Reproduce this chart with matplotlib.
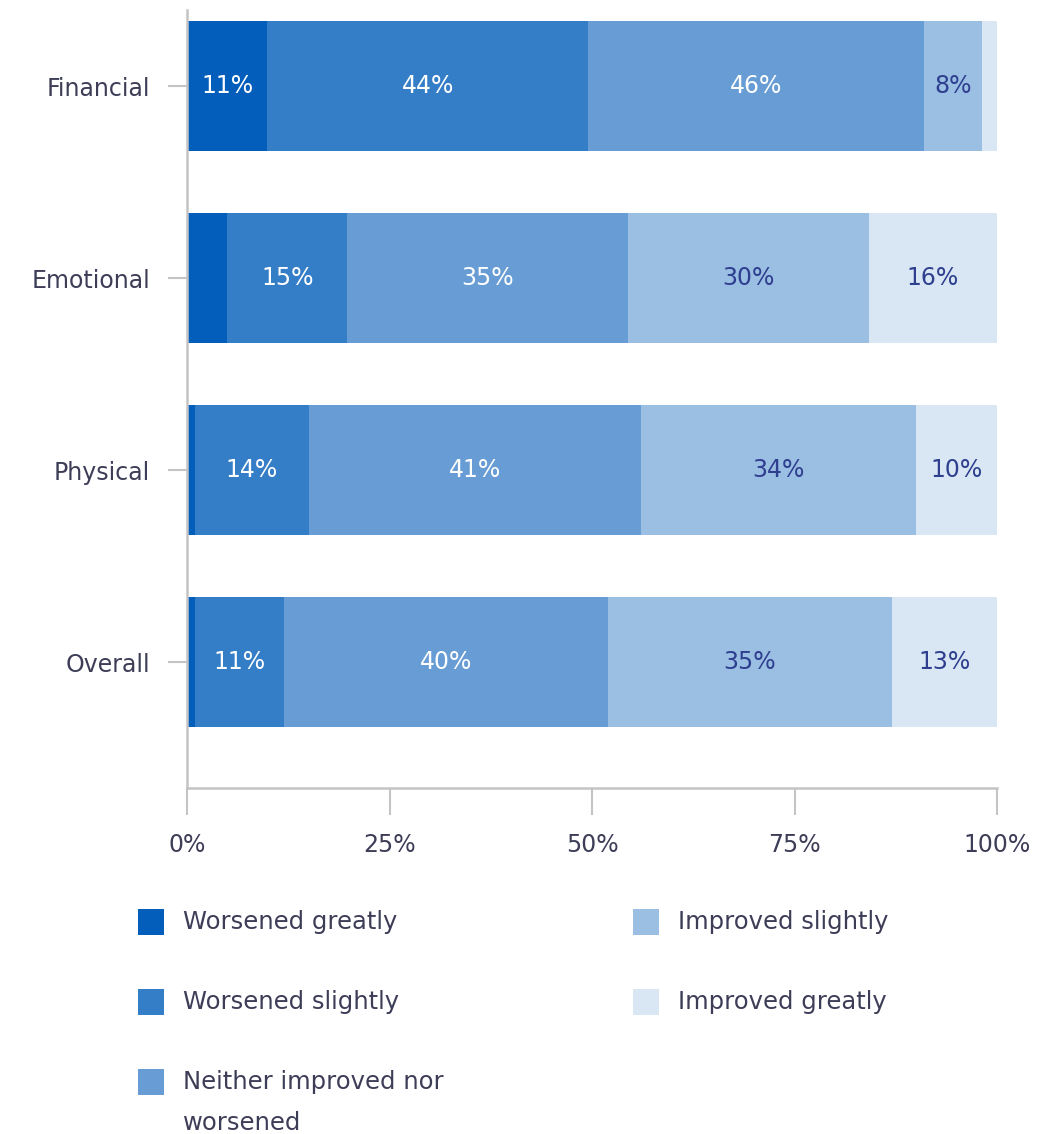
"""
Change in wellbeing by area - 100% stacked horizontal bars
"""
import matplotlib
matplotlib.use('Agg')
import matplotlib.pyplot as plt
from matplotlib.patches import Rectangle
import numpy as np

categories = ['Financial', 'Emotional', 'Physical', 'Overall']
series = ['Worsened greatly', 'Worsened slightly', 'Neither improved nor\nworsened',
          'Improved slightly', 'Improved greatly']

# share of respondents per answer (%), one list per category
financial = [11, 44, 46, 8, 2]
emotional = [5, 15, 35, 30, 16]
physical = [1, 14, 41, 34, 10]
overall = [1, 11, 40, 35, 13]

x_ticks = [0, 25, 50, 75, 100]
x_ticklabels = ['0%', '25%', '50%', '75%', '100%']

colors = ['#025eba', '#347dc7', '#679dd4', '#9bbee3', '#d9e6f4']
label_colors = ['white', 'white', 'white', '#2e3f8f', '#2e3f8f']
text_color = '#3d3d58'
axis_gray = '#c4c4c4'

plt.rcParams['font.family'] = ['DejaVu Sans']

W, H = 1058, 1134
fig = plt.figure(figsize=(W / 100, H / 100), dpi=100)
ax = fig.add_axes([187 / W, 1 - 788 / H, 810 / W, 778 / H])

rows = np.array([financial, emotional, physical, overall], dtype=float)
# each row is scaled to a full 100% bar
shares = rows / rows.sum(axis=1, keepdims=True) * 100
ypos = np.arange(len(categories))

left = np.zeros(len(categories))
for j in range(len(series)):
    ax.barh(ypos, shares[:, j], left=left, height=0.677, color=colors[j], linewidth=0)
    for i in range(len(categories)):
        if rows[i, j] >= 8:
            ax.text(left[i] + shares[i, j] / 2, ypos[i], f'{rows[i, j]:.0f}%',
                    ha='center', va='center', fontsize=17, color=label_colors[j])
    left += shares[:, j]

ax.set_xlim(0, 100)
ax.set_ylim(3.656, -0.396)
ax.set_xticks(x_ticks)
ax.set_xticklabels(x_ticklabels)
ax.set_yticks(ypos)
ax.set_yticklabels(categories)

for side in ['top', 'right']:
    ax.spines[side].set_visible(False)
for side in ['left', 'bottom']:
    ax.spines[side].set_color(axis_gray)
    ax.spines[side].set_linewidth(1.8)

ax.tick_params(axis='x', length=19.5, width=1.5, color=axis_gray, pad=13,
               labelsize=17, labelcolor=text_color)
ax.tick_params(axis='y', length=13.5, width=1.5, color=axis_gray, pad=13,
               labelsize=17, labelcolor=text_color)

# legend in two columns, drawn in figure pixels
legend_slots = [(138, 922), (138, 1002), (138, 1082), (633, 922), (633, 1002)]
for (px, py), name, c in zip(legend_slots, series, colors):
    fig.patches.append(Rectangle((px / W, 1 - (py + 13) / H), 26 / W, 26 / H,
                                 transform=fig.transFigure, facecolor=c,
                                 edgecolor='none'))
    if '\n' in name:
        fig.text((px + 45) / W, 1 - (py - 12) / H, name, ha='left', va='top',
                 fontsize=17.5, color=text_color, linespacing=1.87)
    else:
        fig.text((px + 45) / W, 1 - py / H, name, ha='left', va='center',
                 fontsize=17.5, color=text_color)

fig.savefig('out.png', dpi=100)
